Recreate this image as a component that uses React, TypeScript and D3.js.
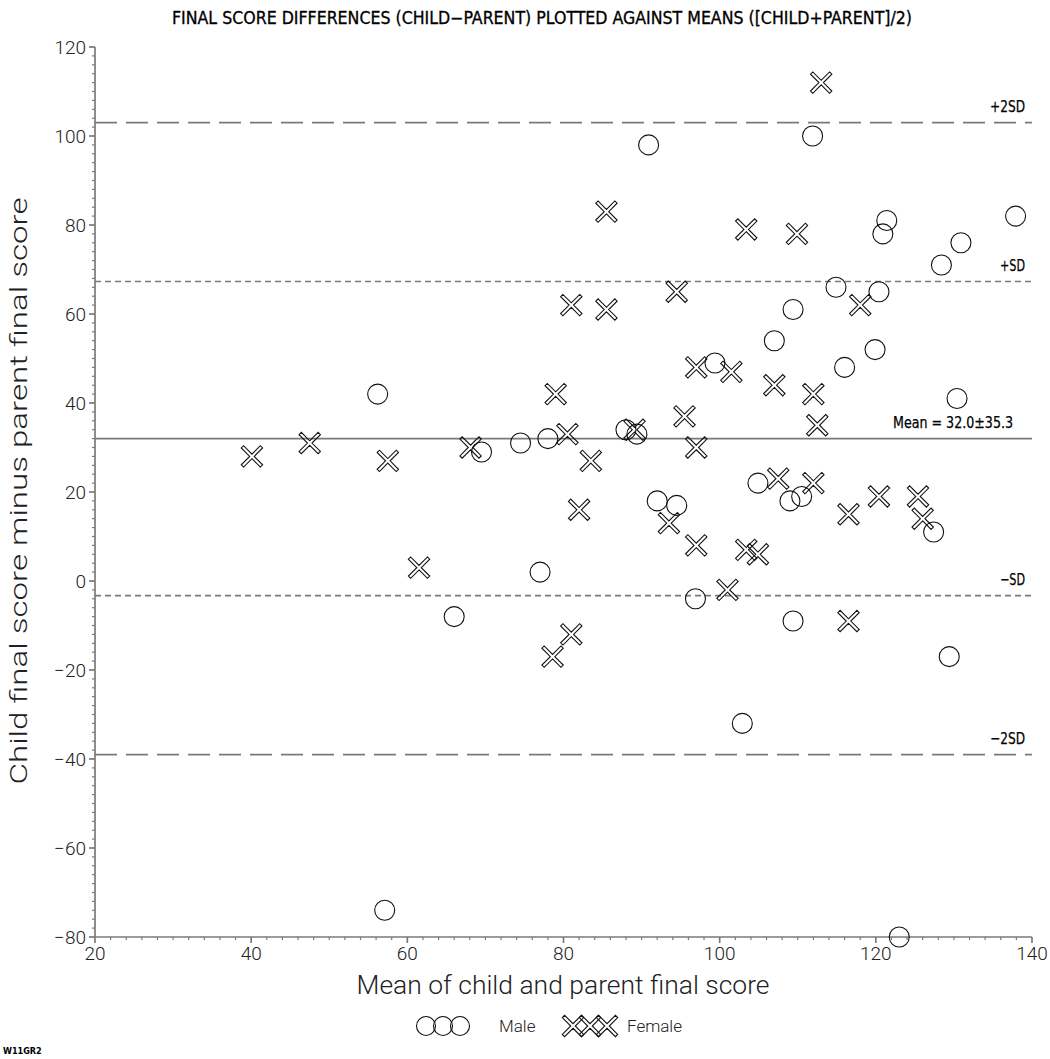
import React from "react"
import * as d3 from "d3"

// readings: [mean of child+parent, child - parent]
const maleMeans = [56.2, 57.1, 66, 69.5, 74.5, 77, 78, 88, 89.4, 90.9, 92, 94.5, 96.9, 99.4, 102.9, 104.9, 107, 109, 110.5, 109.4, 109.4, 111.9, 114.9, 116, 119.9, 120.4, 120.9, 121.4, 123, 127.4, 128.4, 129.4, 130.4, 130.9, 137.9]
const maleDiffs = [42, -74, -8, 29, 31, 2, 32, 34, 33, 98, 18, 17, -4, 49, -32, 22, 54, 18, 19, 61, -9, 100, 66, 48, 52, 65, 78, 81, -80, 11, 71, -17, 41, 76, 82]

const femaleMeans = [40.1, 47.5, 57.5, 61.5, 68.1, 79, 80.5, 81, 85.5, 85.5, 83.5, 82, 81, 78.6, 94.5, 97, 95.5, 89.1, 97, 93.5, 97, 101, 101.5, 103.4, 103.4, 104.9, 107, 107.5, 109.9, 112, 112.5, 112, 113, 118, 116.5, 116.5, 120.4, 125.4, 126]
const femaleDiffs = [28, 31, 27, 3, 30, 42, 33, 62, 61, 83, 27, 16, -12, -17, 65, 48, 37, 34, 30, 13, 8, -2, 47, 79, 7, 6, 44, 23, 78, 42, 35, 22, 112, 62, 15, -9, 19, 19, 14]

// reference line levels as drawn in the picture
const refLevels = [103.0, 67.3, 32.0, -3.3, -39.0]
const refLabels = ["+2SD", "+SD", "Mean = 32.0\u00b135.3", "\u2212SD", "\u22122SD"]
const refDashes = ["22,9", "6,4", null, "6,4", "22,9"]

const xTicks = [20, 40, 60, 80, 100, 120, 140]
const yTicks = [-80, -60, -40, -20, 0, 20, 40, 60, 80, 100, 120]

const W = 1050
const H = 1059
const thin = "Roboto, 'DejaVu Sans', sans-serif"
const cond = "'DejaVu Sans Condensed', 'Liberation Sans Narrow', 'DejaVu Sans', sans-serif"
const gray = "#7a7a7a"

// hollow X drawn as outlined cross
const crossPath = (() => {
  const t = 1.6
  const L = 13.5
  const pts: [number, number][] = [
    [t, t], [L, t], [L, -t], [t, -t], [t, -L], [-t, -L],
    [-t, -t], [-L, -t], [-L, t], [-t, t], [-t, L], [t, L],
  ]
  const c = Math.SQRT1_2
  const rot = pts.map(([x, y]) => [(x - y) * c, (x + y) * c] as [number, number])
  return d3.line()(rot) + "Z"
})()

const labelWidth = (s: string) => (s.startsWith("Mean") ? 120 : s.includes("2") ? 35 : 25)

const App: React.FC = () => {
  const x = d3.scaleLinear().domain([20, 140]).range([95, 1032])
  const y = d3.scaleLinear().domain([-80, 120]).range([937, 47])

  const minorX = d3.range(20, 140.1, 2).filter(v => v % 20 !== 0)
  const minorY = d3.range(-80, 120.1, 2).filter(v => v % 20 !== 0)

  return (
    <svg width={W} height={H} style={{ position: "absolute", left: 0, top: 0, background: "#fff" }}>
      <text x={542} y={24} textAnchor="middle" fontFamily={cond} fontSize={17} textLength={740}
        lengthAdjust="spacingAndGlyphs" stroke="#000" strokeWidth={0.3}>
        FINAL SCORE DIFFERENCES (CHILD−PARENT) PLOTTED AGAINST MEANS ([CHILD+PARENT]/2)
      </text>

      {/* reference lines */}
      {refLevels.map((lv, i) => {
        const yy = y(lv)
        const lab = refLabels[i]
        return (
          <g key={lab}>
            <line x1={x(20)} x2={x(140)} y1={yy} y2={yy} stroke={gray} strokeWidth={1.7}
              strokeDasharray={refDashes[i] ?? undefined} />
            <text x={lab.startsWith("Mean") ? 1013 : 1025} y={yy - 11} textAnchor="end" fontFamily={cond}
              fontSize={16} textLength={labelWidth(lab)} lengthAdjust="spacingAndGlyphs"
              stroke="#000" strokeWidth={0.25}>{lab}</text>
          </g>
        )
      })}

      {/* axes */}
      <g stroke={gray} strokeWidth={1.7}>
        <line x1={x(20)} x2={x(20)} y1={y(120)} y2={y(-80)} />
        <line x1={x(20)} x2={x(140)} y1={y(-80)} y2={y(-80)} />
        {yTicks.map(v => <line key={"yt" + v} x1={x(20) - 6} x2={x(20)} y1={y(v)} y2={y(v)} />)}
        {xTicks.map(v => <line key={"xt" + v} x1={x(v)} x2={x(v)} y1={y(-80)} y2={y(-80) + 6} />)}
      </g>
      <g stroke={gray} strokeWidth={1.2}>
        {minorY.map(v => <line key={"ym" + v} x1={x(20) - 3} x2={x(20)} y1={y(v)} y2={y(v)} />)}
        {minorX.map(v => <line key={"xm" + v} x1={x(v)} x2={x(v)} y1={y(-80)} y2={y(-80) + 3} />)}
      </g>
      <g fontFamily={thin} fontWeight={300} fontSize={19} fill="#222">
        {yTicks.map(v => (
          <text key={"yl" + v} x={x(20) - 9} y={y(v) + 7} textAnchor="end">{v < 0 ? "\u2212" + Math.abs(v) : v}</text>
        ))}
        {xTicks.map(v => (
          <text key={"xl" + v} x={x(v)} y={y(-80) + 23} textAnchor="middle">{v}</text>
        ))}
      </g>

      <text x={563} y={994} textAnchor="middle" fontFamily={thin} fontWeight={300} fontSize={25}
        textLength={413} lengthAdjust="spacingAndGlyphs" fill="#222">
        Mean of child and parent final score
      </text>
      <text transform={`translate(27,491) rotate(-90)`} textAnchor="middle" fontFamily={thin} fontWeight={300}
        fontSize={24} textLength={587} lengthAdjust="spacingAndGlyphs" fill="#222">
        Child final score minus parent final score
      </text>

      {/* points */}
      <g fill="none" stroke="#111" strokeWidth={1.1}>
        {maleMeans.map((m, i) => (
          <circle key={"m" + i} cx={x(m)} cy={y(maleDiffs[i])} r={10} />
        ))}
        {femaleMeans.map((m, i) => (
          <path key={"f" + i} d={crossPath} transform={`translate(${x(m)},${y(femaleDiffs[i])})`} />
        ))}
      </g>

      {/* legend */}
      <g fill="none" stroke="#111" strokeWidth={1.1}>
        {[426, 443, 460].map(cx => <circle key={"lc" + cx} cx={cx} cy={1026} r={9.5} />)}
        {[573, 590, 607].map(cx => <path key={"lx" + cx} d={crossPath} transform={`translate(${cx},1026)`} />)}
      </g>
      <g fontFamily={thin} fontWeight={300} fontSize={17} fill="#222">
        <text x={499} y={1032}>Male</text>
        <text x={627} y={1032}>Female</text>
      </g>

      <text x={3} y={1054} fontFamily={cond} fontWeight="bold" fontSize={9}>W11GR2</text>
    </svg>
  )
}

export default App
